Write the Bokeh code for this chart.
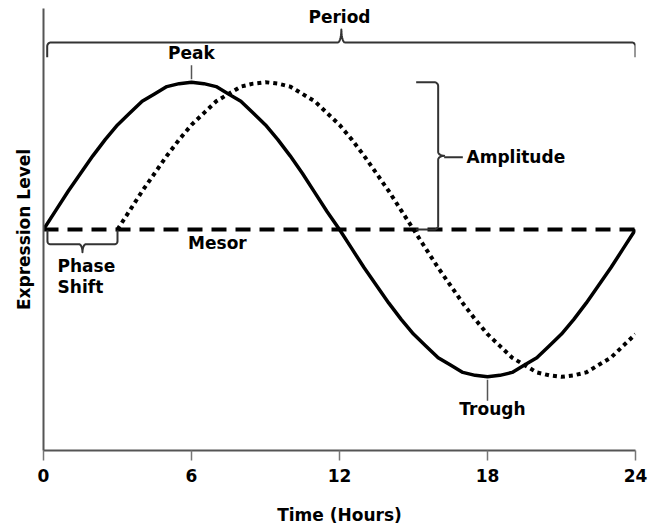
import numpy as np
from bokeh.plotting import figure
from bokeh.models import Range1d, FixedTicker
from bokeh.core.properties import value
from bokeh.embed import file_html
from bokeh.resources import INLINE

# ---- data ----
hours = [0, 0.5, 1, 1.5, 2, 2.5, 3, 3.5, 4, 4.5, 5, 5.5, 6, 6.5, 7, 7.5, 8, 8.5, 9, 9.5,
         10, 10.5, 11, 11.5, 12, 12.5, 13, 13.5, 14, 14.5, 15, 15.5, 16, 16.5, 17, 17.5,
         18, 18.5, 19, 19.5, 20, 20.5, 21, 21.5, 22, 22.5, 23, 23.5, 24]
expression = [0.0, 0.13, 0.26, 0.38, 0.5, 0.61, 0.71, 0.79, 0.87, 0.92, 0.97, 0.99, 1.0,
              0.99, 0.97, 0.92, 0.87, 0.79, 0.71, 0.61, 0.5, 0.38, 0.25, 0.12, 0.0,
              -0.13, -0.26, -0.38, -0.5, -0.61, -0.71, -0.79, -0.87, -0.92, -0.97, -0.99,
              -1.0, -0.99, -0.97, -0.92, -0.87, -0.79, -0.71, -0.61, -0.5, -0.38, -0.26,
              -0.13, 0.0]
shifted_hours = [3, 3.5, 4, 4.5, 5, 5.5, 6, 6.5, 7, 7.5, 8, 8.5, 9, 9.5, 10, 10.5, 11,
                 11.5, 12, 12.5, 13, 13.5, 14, 14.5, 15, 15.5, 16, 16.5, 17, 17.5, 18,
                 18.5, 19, 19.5, 20, 20.5, 21, 21.5, 22, 22.5, 23, 23.5, 24]
shifted_expression = [0.0, 0.13, 0.26, 0.38, 0.5, 0.61, 0.71, 0.79, 0.87, 0.92, 0.97, 0.99,
                      1.0, 0.99, 0.97, 0.92, 0.87, 0.79, 0.71, 0.61, 0.5, 0.38, 0.26, 0.13,
                      0.0, -0.13, -0.26, -0.38, -0.5, -0.61, -0.71, -0.79, -0.87, -0.92,
                      -0.97, -0.99, -1.0, -0.99, -0.97, -0.92, -0.87, -0.79, -0.71]
mesor = 0.0
period = [0, 24]
phase_shift = [0, 3]
peak = (6, 1.0)
trough = (18, -1.0)
x_ticks = [0, 6, 12, 18, 24]

FONT = value("DejaVu Sans")
W, H = 657, 527
ML, MR, MT, MB = 43, 22, 8, 75
SX = (W - ML - MR) / 24.0      # px per hour
SY = (H - MT - MB) / 3.0       # px per unit

p = figure(width=W, height=H, x_range=Range1d(0, 24), y_range=Range1d(-1.5, 1.5),
           output_backend="svg", toolbar_location=None,
           min_border_left=ML, min_border_right=MR, min_border_top=MT, min_border_bottom=MB)
p.outline_line_color = None
p.grid.visible = False
p.background_fill_color = "white"
p.border_fill_color = "white"

ax = p.xaxis[0]
ax.ticker = FixedTicker(ticks=x_ticks)
ax.axis_line_color = "#555555"
ax.axis_line_width = 2
ax.major_tick_line_color = "#777777"
ax.major_tick_line_width = 1.5
ax.major_tick_out = 10
ax.major_tick_in = 0
ax.minor_tick_line_color = None
ax.major_label_text_font = "DejaVu Sans"
ax.major_label_text_font_style = "bold"
ax.major_label_text_font_size = "17px"
ax.major_label_text_color = "black"
ax.major_label_standoff = 8
ax.axis_label = "Time (Hours)"
ax.axis_label_text_font = "DejaVu Sans"
ax.axis_label_text_font_style = "bold"
ax.axis_label_text_font_size = "17px"
ax.axis_label_text_color = "black"
ax.axis_label_standoff = 20

ay = p.yaxis[0]
ay.ticker = FixedTicker(ticks=[])
ay.axis_line_color = "#555555"
ay.axis_line_width = 2
ay.major_tick_out = 0
ay.major_tick_in = 0
ay.minor_tick_line_color = None
ay.axis_label = "Expression Level"
ay.axis_label_text_font = "DejaVu Sans"
ay.axis_label_text_font_style = "bold"
ay.axis_label_text_font_size = "17px"
ay.axis_label_text_color = "black"
ay.axis_label_standoff = 10

# curves
p.line([period[0], period[1]], [mesor, mesor], line_color="black", line_width=4, line_dash="15 9")
p.line(shifted_hours, shifted_expression, line_color="black", line_width=4, line_dash="4 4")
p.line(hours, expression, line_color="black", line_width=3.5, line_join="round")


def brace_uv(L, end_off, tip_off, r, c, n=10):
    s = np.sign(end_off)
    th = np.linspace(0, np.pi / 2, n)
    m = L / 2.0
    pts = [(0.0, end_off)]
    pts += [(r - r * np.cos(a), s * r - s * r * np.sin(a)) for a in th]
    pts += [(m - c + c * np.sin(a), tip_off - tip_off * np.cos(a)) for a in th]
    right = [(L - u, v) for (u, v) in reversed(pts)]
    allp = pts + right[1:]
    return np.array([q[0] for q in allp]), np.array([q[1] for q in allp])


def hbrace(x0, x1, y, end_off, tip_off, r, c):
    u, v = brace_uv((x1 - x0) * SX, end_off, tip_off, r, c)
    p.line(x0 + u / SX, y + v / SY, line_color="#333333", line_width=2, line_join="round")


def vbrace(y0, y1, x, end_off, tip_off, r, c):
    u, v = brace_uv((y1 - y0) * SY, end_off, tip_off, r, c)
    p.line(x + v / SX, y0 + u / SY, line_color="#333333", line_width=2, line_join="round")


TXT = dict(text_font=FONT, text_font_style="bold", text_font_size="17px",
           text_baseline="middle", text_color="black")

# Period brace
hbrace(period[0] + 0.15, period[1], 1.27, -15, 13, 4, 3.5)
p.text([sum(period) / 2], [1.44], text=["Period"], text_align="center", **TXT)

# Phase shift bracket
hbrace(phase_shift[0] + 0.16, phase_shift[1], -0.10, 14, -8, 3, 3.5)
p.text([0.57, 0.57], [-0.25, -0.39], text=["Phase", "Shift"], text_align="left", **TXT)

# Amplitude brace
amp_x = 16.0
vbrace(mesor, peak[1], amp_x, -22, 6, 4, 4)
p.line([amp_x + 6 / SX, 17.0], [0.49, 0.49], line_color="#333333", line_width=2)
p.text([17.15], [0.49], text=["Amplitude"], text_align="left", **TXT)

# Peak / Trough leaders
p.line([peak[0], peak[0]], [peak[1] + 0.02, 1.115], line_color="#555555", line_width=1.5)
p.text([peak[0]], [1.196], text=["Peak"], text_align="center", **TXT)
p.line([trough[0], trough[0]], [trough[1] - 0.02, -1.162], line_color="#555555", line_width=1.5)
p.text([18.2], [-1.216], text=["Trough"], text_align="center", **TXT)

# Mesor label
p.text([7.05], [-0.09], text=["Mesor"], text_align="center", **TXT)

open("out.html", "w").write(file_html(p, INLINE))
